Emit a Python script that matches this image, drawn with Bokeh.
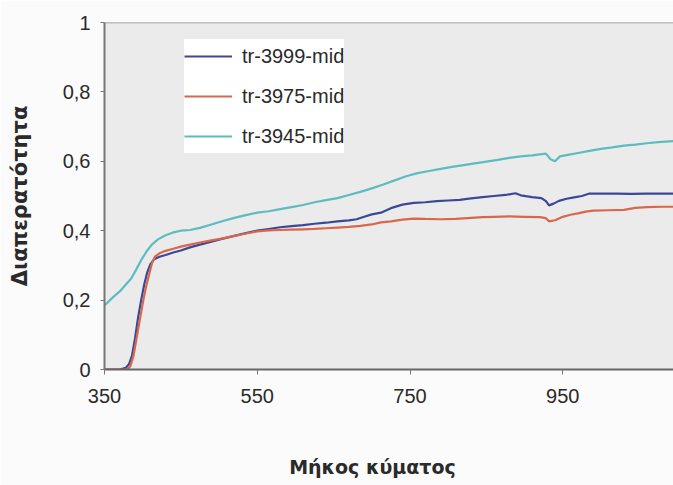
from bokeh.plotting import figure
from bokeh.models import (Range1d, FixedTicker, CustomJSTickFormatter, Legend, LegendItem, Span)
from bokeh.embed import file_html
from bokeh.resources import INLINE

# ---- data ----
x_3945 = [350, 355, 362, 370, 378, 385, 392, 398, 405, 412, 420, 430, 440, 450, 462, 475, 490, 505,
          520, 535, 550, 565, 580, 595, 610, 625, 640, 655, 670, 685, 700, 715, 730, 745, 760, 775,
          790, 805, 820, 835, 850, 865, 880, 895, 910, 920, 928, 934, 940, 946, 955, 970, 985, 1000,
          1015, 1030, 1045, 1060, 1075, 1095]
y_3945 = [0.185, 0.195, 0.21, 0.225, 0.245, 0.262, 0.29, 0.315, 0.34, 0.36, 0.375, 0.387, 0.395, 0.40,
          0.402, 0.408, 0.418, 0.428, 0.437, 0.445, 0.452, 0.456, 0.462, 0.468, 0.474, 0.482, 0.488,
          0.494, 0.503, 0.512, 0.522, 0.533, 0.545, 0.557, 0.566, 0.572, 0.578, 0.584, 0.589, 0.594,
          0.599, 0.604, 0.61, 0.614, 0.617, 0.62, 0.622, 0.606, 0.60, 0.614, 0.618, 0.624, 0.63, 0.636,
          0.64, 0.645, 0.648, 0.652, 0.655, 0.658]

x_3999 = [350, 360, 370, 378, 382, 386, 390, 394, 398, 402, 406, 410, 415, 422, 430, 440, 450, 462,
          475, 490, 505, 520, 535, 550, 565, 580, 595, 610, 625, 640, 655, 670, 680, 690, 700, 712,
          725, 740, 755, 770, 785, 800, 815, 830, 845, 860, 875, 888, 895, 910, 922, 928, 932, 938,
          945, 955, 965, 975, 985, 1000, 1020, 1040, 1060, 1080, 1095]
y_3999 = [0.0, 0.0, 0.0, 0.005, 0.015, 0.04, 0.09, 0.15, 0.2, 0.245, 0.28, 0.303, 0.318, 0.325, 0.33,
          0.337, 0.343, 0.352, 0.36, 0.368, 0.377, 0.385, 0.393, 0.40, 0.405, 0.41, 0.413, 0.416, 0.42,
          0.423, 0.427, 0.43, 0.433, 0.44, 0.447, 0.452, 0.465, 0.475, 0.48, 0.482, 0.485, 0.487,
          0.489, 0.493, 0.497, 0.50, 0.503, 0.508, 0.502, 0.497, 0.494, 0.485, 0.473, 0.478, 0.486,
          0.492, 0.496, 0.50, 0.507, 0.507, 0.507, 0.506, 0.507, 0.507, 0.507]

x_3975 = [350, 360, 370, 380, 384, 388, 392, 396, 400, 404, 408, 412, 416, 422, 430, 440, 450, 462,
          475, 490, 505, 520, 535, 550, 565, 580, 595, 610, 625, 640, 655, 670, 685, 700, 712, 725,
          740, 755, 770, 790, 810, 830, 845, 860, 880, 900, 920, 928, 932, 940, 950, 960, 970, 980,
          990, 1010, 1030, 1045, 1060, 1080, 1095]
y_3975 = [0.0, 0.0, 0.0, 0.0, 0.01, 0.04, 0.09, 0.14, 0.19, 0.235, 0.27, 0.305, 0.325, 0.335, 0.342,
          0.348, 0.354, 0.36, 0.366, 0.372, 0.378, 0.385, 0.392, 0.398, 0.401, 0.402, 0.403, 0.404,
          0.405, 0.407, 0.409, 0.411, 0.414, 0.418, 0.424, 0.427, 0.432, 0.435, 0.434, 0.433, 0.434,
          0.437, 0.439, 0.44, 0.441, 0.44, 0.439, 0.436, 0.427, 0.43, 0.44, 0.446, 0.45, 0.455, 0.458,
          0.459, 0.46, 0.466, 0.468, 0.469, 0.469]

series_names = ["tr-3999-mid", "tr-3975-mid", "tr-3945-mid"]
series_colors = ["#3b4899", "#d9674c", "#5cbcc0"]
x_ticks = [350, 550, 750, 950]
y_ticks = [0, 0.2, 0.4, 0.6, 0.8, 1.0]
x_title = "Μήκος κύματος"
y_title = "Διαπερατότητα"

TXT = "#2a2a2a"

p = figure(width=673, height=485, output_backend="svg", toolbar_location=None,
           x_range=Range1d(350, 1095), y_range=Range1d(0, 1),
           min_border_left=104, min_border_right=0, min_border_top=22, min_border_bottom=116)
p.background_fill_color = "#ebebeb"
p.border_fill_color = "#fbfbfb"
p.outline_line_color = None
p.xgrid.visible = False
p.ygrid.visible = False

xs = [x_3999, x_3975, x_3945]
ys = [y_3999, y_3975, y_3945]
renderers = []
for xv, yv, c in zip(xs, ys, series_colors):
    renderers.append(p.line(xv, yv, line_color=c, line_width=2.2))

p.add_layout(Span(location=1, dimension="width", line_color="#8a8a8a", line_width=1.5))

xa = p.xaxis[0]
xa.ticker = FixedTicker(ticks=x_ticks)
xa.axis_line_color = "#666666"
xa.axis_line_width = 2
xa.major_tick_line_color = "#777777"
xa.major_tick_out = 5
xa.major_tick_in = 0
xa.minor_tick_line_color = None
xa.major_label_standoff = 14
xa.major_label_text_font = "Liberation Sans"
xa.major_label_text_font_size = "20px"
xa.major_label_text_color = TXT
# trailing no-break spaces shift the centred title left, as in the original
# (whose plot frame ran past the cropped right edge)
xa.axis_label = x_title + "\u00a0" * 5
xa.axis_label_text_font = "DejaVu Sans"
xa.axis_label_text_font_style = "bold"
xa.axis_label_text_font_size = "19px"
xa.axis_label_text_color = TXT
xa.axis_label_standoff = 50

ya = p.yaxis[0]
ya.ticker = FixedTicker(ticks=y_ticks)
ya.formatter = CustomJSTickFormatter(code="""
if (Math.abs(tick) < 1e-9) return "0";
if (Math.abs(tick - 1) < 1e-9) return "1";
return tick.toFixed(1).replace('.', ',');
""")
ya.axis_line_color = "#777777"
ya.axis_line_width = 2
ya.major_tick_line_color = "#777777"
ya.major_tick_out = 4
ya.major_tick_in = 0
ya.minor_tick_line_color = None
ya.major_label_standoff = 10
ya.major_label_text_font = "Liberation Sans"
ya.major_label_text_font_size = "20px"
ya.major_label_text_color = TXT
ya.axis_label = y_title
ya.axis_label_text_font = "DejaVu Sans"
ya.axis_label_text_font_style = "bold"
ya.axis_label_text_font_size = "21px"
ya.axis_label_text_color = TXT
ya.axis_label_standoff = 28

legend = Legend(items=[LegendItem(label=n, renderers=[r]) for n, r in zip(series_names, renderers)],
                location=(80, 216))
legend.background_fill_color = "white"
legend.background_fill_alpha = 1
legend.border_line_color = None
legend.label_text_font = "Liberation Sans"
legend.label_text_font_size = "20px"
legend.label_text_color = TXT
legend.glyph_width = 48
legend.glyph_height = 34
legend.label_height = 34
legend.spacing = 6
legend.padding = 8
legend.margin = 0
legend.label_standoff = 10
p.add_layout(legend)

open("out.html", "w").write(file_html(p, INLINE))
